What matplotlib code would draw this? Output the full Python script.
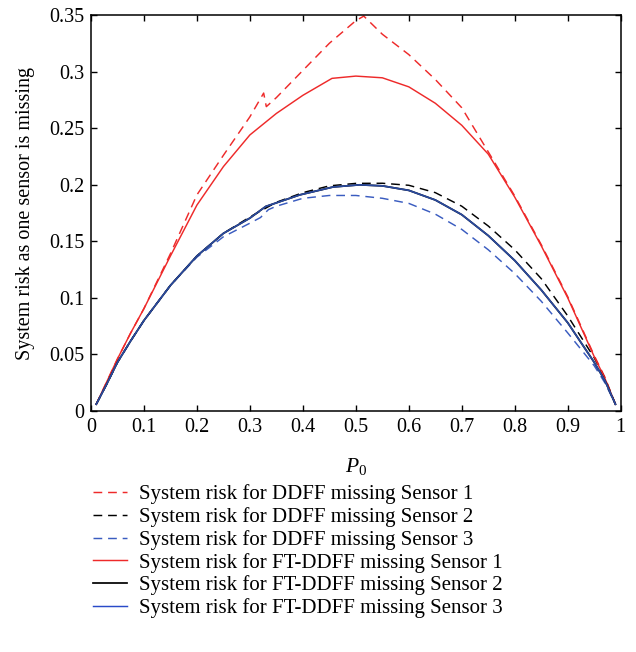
import numpy as np
import matplotlib
matplotlib.use('Agg')
import matplotlib.pyplot as plt

plt.rcParams['font.family'] = ['Liberation Serif', 'DejaVu Serif']
plt.rcParams['mathtext.fontset'] = 'custom'
plt.rcParams['mathtext.rm'] = 'Liberation Serif'
plt.rcParams['mathtext.it'] = 'Liberation Serif:italic'

# prior probability P0
p0 = [0.01, 0.03, 0.05, 0.075, 0.1, 0.15, 0.2, 0.25, 0.3, 0.35, 0.4, 0.45, 0.5,
      0.55, 0.6, 0.65, 0.7, 0.75, 0.8, 0.85, 0.9, 0.95, 0.97, 0.99]

# DDFF, sensor 1 missing (has a jump near P0 = 0.33 and a peak near 0.515)
p0_ddff1 = [0.01, 0.03, 0.05, 0.075, 0.1, 0.15, 0.2, 0.25, 0.3, 0.326, 0.331, 0.35,
            0.4, 0.45, 0.5, 0.515, 0.55, 0.6, 0.65, 0.7, 0.75, 0.8, 0.85, 0.9,
            0.95, 0.97, 0.99]
ddff_s1 = [0.006, 0.026, 0.046, 0.069, 0.0905, 0.139, 0.191, 0.226, 0.260, 0.281, 0.269, 0.277,
           0.301, 0.325, 0.345, 0.349, 0.333, 0.315, 0.293, 0.268, 0.229, 0.190, 0.147, 0.101,
           0.049, 0.030, 0.006]

ddff_s2 = [0.006, 0.024, 0.043, 0.062, 0.080, 0.111, 0.137, 0.157, 0.1715, 0.1845, 0.193, 0.199, 0.2012,
           0.2013, 0.1995, 0.193, 0.181, 0.1635, 0.1425, 0.117, 0.084, 0.047, 0.029, 0.006]

p0_ddff3 = [0.01, 0.03, 0.05, 0.075, 0.1, 0.15, 0.2, 0.25, 0.3, 0.32, 0.335, 0.35, 0.4, 0.45, 0.5,
            0.55, 0.6, 0.65, 0.7, 0.75, 0.8, 0.85, 0.9, 0.95, 0.97, 0.99]
ddff_s3 = [0.006, 0.024, 0.043, 0.062, 0.080, 0.111, 0.136, 0.154, 0.166, 0.171, 0.178, 0.181, 0.188,
           0.1905, 0.1905, 0.188, 0.1835, 0.174, 0.1605, 0.1425, 0.1215, 0.097, 0.069, 0.040, 0.025, 0.006]

p0_ft1 = [0.01, 0.03, 0.05, 0.075, 0.1, 0.15, 0.2, 0.25, 0.3, 0.35, 0.4, 0.455, 0.5,
          0.55, 0.6, 0.65, 0.7, 0.75, 0.8, 0.85, 0.9, 0.95, 0.97, 0.99]
ft_s1 = [0.006, 0.026, 0.046, 0.069, 0.0905, 0.137, 0.182, 0.216, 0.244, 0.263, 0.279, 0.294, 0.296,
         0.2945, 0.2865, 0.272, 0.2525, 0.227, 0.189, 0.146, 0.100, 0.048, 0.029, 0.006]

p0_ft23 = [0.01, 0.03, 0.05, 0.075, 0.1, 0.15, 0.2, 0.25, 0.3, 0.33, 0.394, 0.457, 0.507,
           0.55, 0.6, 0.65, 0.7, 0.75, 0.8, 0.85, 0.9, 0.95, 0.97, 0.99]
ft_s2 = [0.006, 0.024, 0.043, 0.062, 0.080, 0.111, 0.137, 0.157, 0.1705, 0.1808, 0.191, 0.198, 0.1999,
         0.199, 0.195, 0.1865, 0.1735, 0.155, 0.133, 0.107, 0.078, 0.043, 0.027, 0.006]
ft_s3 = list(ft_s2)

labels = ['System risk for DDFF missing Sensor 1',
          'System risk for DDFF missing Sensor 2',
          'System risk for DDFF missing Sensor 3',
          'System risk for FT-DDFF missing Sensor 1',
          'System risk for FT-DDFF missing Sensor 2',
          'System risk for FT-DDFF missing Sensor 3']

xticks = [0, 0.1, 0.2, 0.3, 0.4, 0.5, 0.6, 0.7, 0.8, 0.9, 1]
xticklabels = ['0', '0.1', '0.2', '0.3', '0.4', '0.5', '0.6', '0.7', '0.8', '0.9', '1']
yticks = [0, 0.05, 0.1, 0.15, 0.2, 0.25, 0.3, 0.35]
yticklabels = ['0', '0.05', '0.1', '0.15', '0.2', '0.25', '0.3', '0.35']

red = '#ee2a2a'
blue_d = '#3a5cc0'
blue_s = '#2a4a9e'
dash = (0, (6, 4))
lw = 1.05
fs = 14.5

fig = plt.figure(figsize=(6.36, 6.52), dpi=100)
ax = fig.add_axes([0.143, 0.3696, 0.833, 0.6074])

l1, = ax.plot(p0_ddff1, ddff_s1, color=red, lw=lw, linestyle=dash)
l2, = ax.plot(p0, ddff_s2, color='black', lw=lw, linestyle=dash)
l3, = ax.plot(p0_ddff3, ddff_s3, color=blue_d, lw=lw, linestyle=dash)
l4, = ax.plot(p0_ft1, ft_s1, color=red, lw=lw)
l5, = ax.plot(p0_ft23, ft_s2, color='black', lw=lw + 0.2)
l6, = ax.plot(p0_ft23, ft_s3, color=blue_s, lw=lw + 0.2)

ax.set_xlim(0, 1)
ax.set_ylim(0, 0.35)
ax.set_xticks(xticks)
ax.set_xticklabels(xticklabels)
ax.set_yticks(yticks)
ax.set_yticklabels(yticklabels)
ax.tick_params(direction='in', top=True, right=True, length=4, width=1, labelsize=fs, pad=5)
for s in ax.spines.values():
    s.set_linewidth(1.1)

ax.set_xlabel('$P_0$', fontsize=15.5, labelpad=14)
ax.set_ylabel('System risk as one sensor is missing', fontsize=fs, labelpad=10)

# legend handle for sensor 3 drawn in a lighter blue
h6 = plt.Line2D([], [], color='#2a4ac8', lw=lw)
fig.legend([l1, l2, l3, l4, l5, h6], labels, loc='upper left',
           bbox_to_anchor=(0.116, 0.286), frameon=False, fontsize=15,
           handlelength=1.65, handletextpad=0.6, labelspacing=0.14)

fig.savefig('out.png', dpi=100)
